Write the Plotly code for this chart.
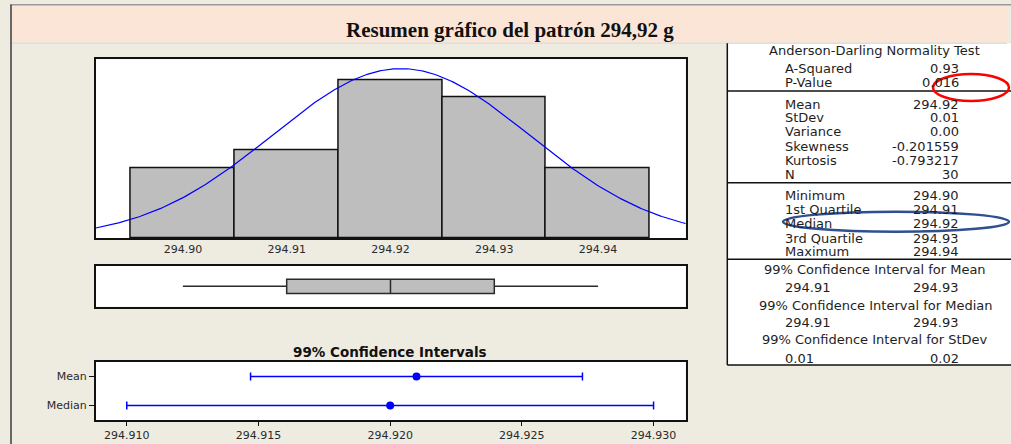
import numpy as np
import plotly.graph_objects as go

W, H = 1011, 444

# ---- data ------------------------------------------------------------------
bin_values = [294.90, 294.91, 294.92, 294.93, 294.94]
bin_counts = [4, 5, 9, 8, 4]
bin_width = 0.01
hist_ticks = [294.90, 294.91, 294.92, 294.93, 294.94]

ci_rows = ["Median", "Mean"]
ci_centers = [294.920, 294.921]
ci_lower = [294.910, 294.9147]
ci_upper = [294.930, 294.9273]
ci_ticks = [294.910, 294.915, 294.920, 294.925, 294.930]

ad_labels = ["A-Squared", "P-Value"]
ad_values = ["0.93", "0.016"]
stat_labels = ["Mean", "StDev", "Variance", "Skewness", "Kurtosis", "N"]
stat_values = ["294.92", "0.01", "0.00", "-0.201559", "-0.793217", "30"]
quart_labels = ["Minimum", "1st Quartile", "Median", "3rd Quartile", "Maximum"]
quart_values = ["294.90", "294.91", "294.92", "294.93", "294.94"]
ci_titles = [
    "99% Confidence Interval for Mean",
    "99% Confidence Interval for Median",
    "99% Confidence Interval for StDev",
]
ci_low_text = ["294.91", "294.91", "0.01"]
ci_high_text = ["294.93", "294.93", "0.02"]

TITLE = "Resumen gráfico del patrón 294,92 g"

# ---- colours / fonts --------------------------------------------------------
BG = "#EEEBE1"
PINK = "#FBE5D6"
GREY_BAR = "#BEBEBE"
BLUE = "#0000FF"
TXT = "#1E1E1E"
TABLE_FONT = "DejaVu Sans"


def px(x):
    return x / W


def py(y):
    return 1 - y / H


# fitted normal curve from the sample (mean / sample stdev)
vals = np.repeat(bin_values, bin_counts)
mu = vals.mean()
sd = vals.std(ddof=1)
hist_range = [294.8916, 294.94844]
xc = np.linspace(hist_range[0], hist_range[1], 300)
yc = len(vals) * bin_width * np.exp(-0.5 * ((xc - mu) / sd) ** 2) / (sd * np.sqrt(2 * np.pi))

fig = go.Figure()

fig.add_trace(
    go.Bar(
        x=bin_values, y=bin_counts, width=bin_width,
        marker={"color": GREY_BAR, "line": {"color": "#111111", "width": 1.5}},
        xaxis="x", yaxis="y", showlegend=False, hoverinfo="x+y",
    )
)
fig.add_trace(
    go.Scatter(
        x=xc, y=yc, mode="lines", line={"color": BLUE, "width": 1.2},
        xaxis="x", yaxis="y", showlegend=False, hoverinfo="skip",
    )
)
fig.add_trace(
    go.Box(
        x=vals, y0=0, orientation="h", boxpoints=False, width=0.354, whiskerwidth=0,
        fillcolor=GREY_BAR, line={"color": "#2a2a2a", "width": 1.5},
        xaxis="x2", yaxis="y2", showlegend=False, name="",
    )
)
fig.add_trace(
    go.Scatter(
        x=ci_centers, y=ci_rows, mode="markers",
        marker={"color": BLUE, "size": 8},
        error_x={
            "type": "data", "symmetric": False,
            "array": [u - c for u, c in zip(ci_upper, ci_centers)],
            "arrayminus": [c - l for c, l in zip(ci_centers, ci_lower)],
            "color": BLUE, "thickness": 1.5, "width": 4,
        },
        xaxis="x3", yaxis="y3", showlegend=False,
    )
)

x_dom = [px(95.7), px(685.7)]
axis_line = {"showline": True, "mirror": True, "linecolor": "#111111", "linewidth": 1.5,
             "showgrid": False, "zeroline": False}
tick_font = {"family": "DejaVu Sans", "size": 11, "color": "#2a2a2a"}

fig.update_layout(
    width=W, height=H,
    margin={"l": 0, "r": 0, "t": 0, "b": 0},
    paper_bgcolor=BG, plot_bgcolor="white",
    bargap=0,
    xaxis={**axis_line, "domain": x_dom, "range": hist_range, "tickvals": hist_ticks,
           "ticktext": [f"{v:.2f}" for v in hist_ticks], "ticks": "", "tickfont": tick_font},
    yaxis={**axis_line, "domain": [py(238.3), py(59.3)], "range": [0, 10.17],
           "showticklabels": False, "ticks": ""},
    xaxis2={**axis_line, "domain": x_dom, "range": hist_range, "showticklabels": False,
            "ticks": "", "anchor": "y2"},
    yaxis2={**axis_line, "domain": [py(306.7), py(266)], "range": [-0.5, 0.5],
            "showticklabels": False, "ticks": "", "anchor": "x2"},
    xaxis3={**axis_line, "domain": x_dom, "range": [294.90882, 294.93122], "tickvals": ci_ticks,
            "ticktext": [f"{v:.3f}" for v in ci_ticks], "ticks": "outside", "ticklen": 4,
            "tickcolor": "#111111", "tickfont": tick_font, "anchor": "y3"},
    yaxis3={**axis_line, "domain": [py(420), py(362)], "type": "category",
            "categoryorder": "array", "categoryarray": ci_rows, "range": [-0.5, 1.5],
            "ticks": "outside", "ticklen": 5, "tickcolor": "#111111", "tickfont": tick_font,
            "anchor": "x3"},
)


def shape(kind, x0, x1, y0, y1, **kw):
    return {"type": kind, "xref": "paper", "yref": "paper",
            "x0": px(x0), "x1": px(x1), "y0": py(y0), "y1": py(y1), **kw}


shapes = [
    # title band and outer frame
    shape("rect", 11, 1007, 42.5, 5.5, fillcolor=PINK, line={"width": 0}, layer="below"),
    shape("line", 11, 1007, 43.3, 43.3, line={"color": "#DEDEDE", "width": 1.5}),
    shape("line", 10, 1011, 4.8, 4.8, line={"color": "#9A9A9A", "width": 1.5}),
    shape("line", 11, 11, 4.8, 444, line={"color": "#3C3C3C", "width": 1.5}),
    # stats table
    shape("rect", 727.3, 1012, 365, 43.3, fillcolor="white", line={"width": 0}, layer="below"),
    shape("line", 727.3, 727.3, 365, 43.3, line={"color": "#111111", "width": 1.5}),
    shape("line", 727.3, 1011, 365, 365, line={"color": "#111111", "width": 1.5}),
]
for yy in (91, 182.7, 259.3):
    shapes.append(shape("line", 727.3, 1011, yy, yy, line={"color": "#111111", "width": 1.5}))
# hand-drawn highlight ellipses
shapes.append(shape("circle", 933, 1009, 101, 74, line={"color": "#FF0000", "width": 2.5}))
shapes.append(shape("circle", 783, 1009, 231.7, 211.7, line={"color": "#2F4F8F", "width": 2.5}))
fig.update_layout(shapes=shapes)

ann = []


def text(t, x, y, anchor="left", size=13, bold=False, family=TABLE_FONT, color=TXT):
    ann.append({
        "text": f"<b>{t}</b>" if bold else t, "x": px(x), "y": py(y),
        "xref": "paper", "yref": "paper", "xanchor": anchor, "yanchor": "middle",
        "showarrow": False, "font": {"family": family, "size": size, "color": color},
    })


text(TITLE, 510, 30, "center", 21, True, "Liberation Serif", "#111111")
text("99% Confidence Intervals", 389.5, 352, "center", 13.5, True, "DejaVu Sans", "#111111")

LX, RX = 782.7, 960.7
text("Anderson-Darling Normality Test", 874, 50.7, "center")
for lab, val, yy in zip(ad_labels, ad_values, [68.3, 82.7]):
    text(lab, LX, yy)
    text(val, RX, yy, "right")
for lab, val, yy in zip(stat_labels, stat_values, [104.3, 117.3, 131, 146, 160, 174]):
    text(lab, LX, yy)
    text(val, RX, yy, "right")
for lab, val, yy in zip(quart_labels, quart_values, [195, 209.3, 224, 238.3, 251]):
    text(lab, LX, yy)
    text(val, RX, yy, "right")
for title, lo, hi, yt, yv in zip(ci_titles, ci_low_text, ci_high_text,
                                 [269.3, 305.7, 339.3], [287.3, 322.7, 358.3]):
    text(title, 875, yt, "center")
    text(lo, LX, yv)
    text(hi, RX, yv, "right")

fig.update_layout(annotations=ann)

# page body has an 8px default margin; drop it so the figure fills the window
fig.write_html(
    "out.html",
    config={"displayModeBar": False},
    post_script="document.body.style.margin='0';",
)
